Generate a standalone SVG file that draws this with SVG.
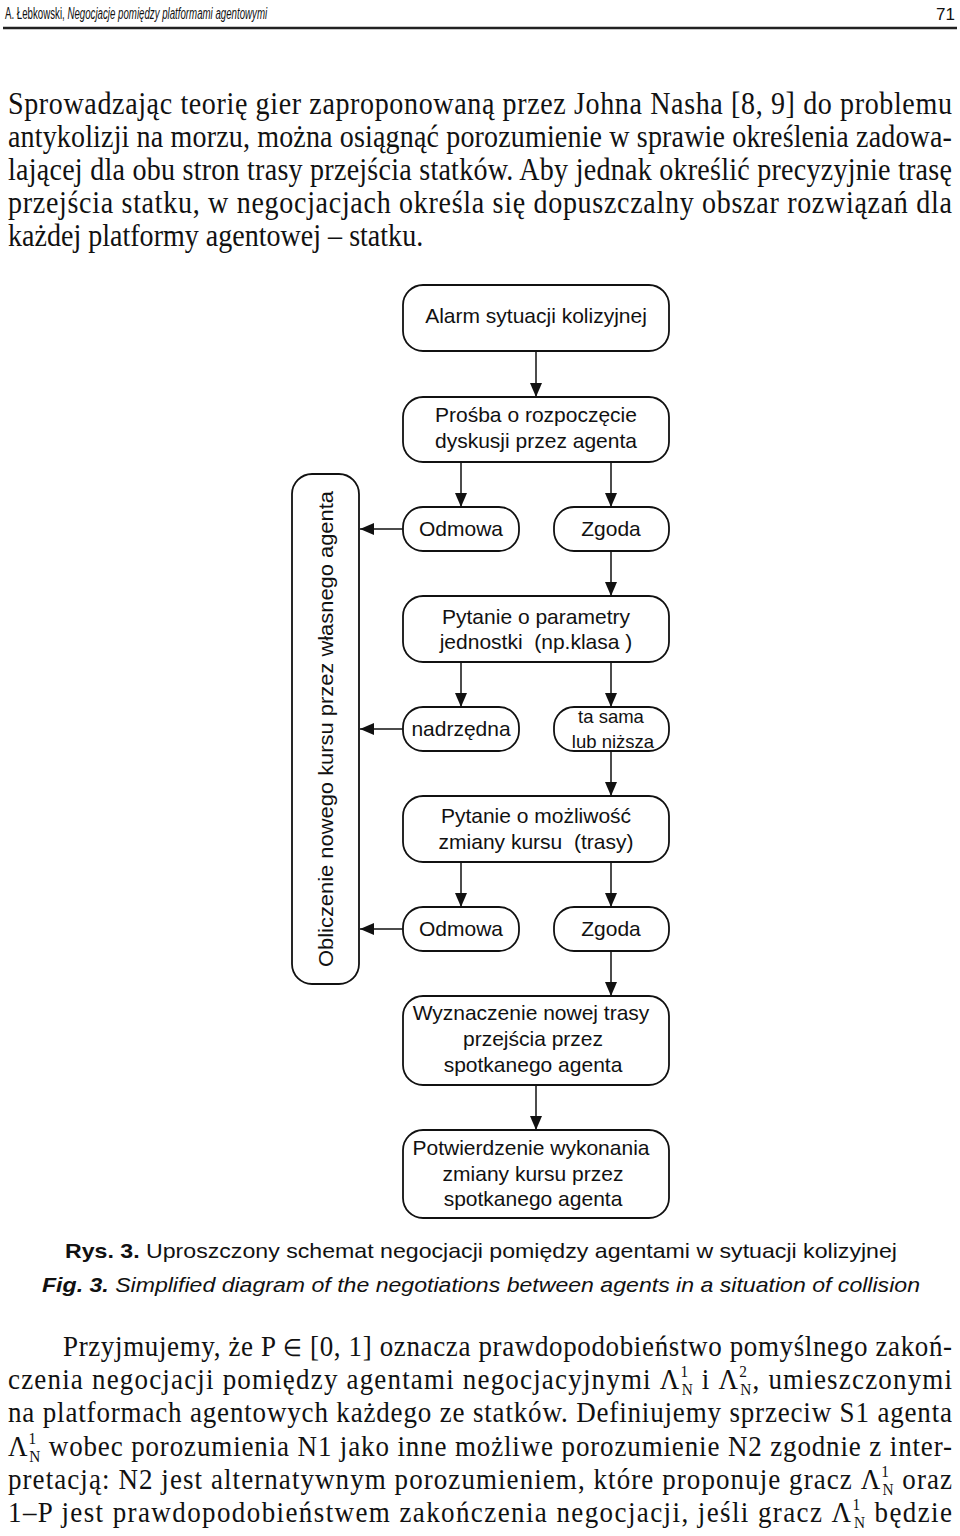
<svg xmlns="http://www.w3.org/2000/svg" width="960" height="1536" viewBox="0 0 960 1536">
<style>
.hdr{font-family:"Liberation Sans",Arial,sans-serif;font-size:17px;fill:#111}
.body{font-family:"Liberation Serif","Times New Roman",serif;font-size:30.5px;fill:#111}
.body2{font-family:"Liberation Serif","Times New Roman",serif;font-size:30px;fill:#111}
.nd rect{fill:#fff;stroke:#111;stroke-width:1.8}
.nd text{font-family:"Liberation Sans",Arial,sans-serif;font-size:21px;fill:#111;text-anchor:middle}
.sm{font-size:18.5px !important}
.cap{font-family:"Liberation Sans",Arial,sans-serif;font-size:21px;fill:#111}
.conn line{stroke:#111;stroke-width:1.5}
.sup{font-size:17px}
</style>
<defs>
<marker id="ah" viewBox="0 0 14 12" refX="14" refY="6" markerWidth="14" markerHeight="12" markerUnits="userSpaceOnUse" orient="auto">
<path d="M0,0 L14,6 L0,12 Z" fill="#111"/>
</marker>
</defs>
<rect width="960" height="1536" fill="#fff"/>

<!-- header -->
<g transform="translate(5,19) scale(0.57,1)">
<text class="hdr" x="0" y="0">A. Łebkowski, <tspan font-style="italic">Negocjacje pomiędzy platformami agentowymi</tspan></text>
</g>
<text class="hdr" x="955" y="20" text-anchor="end" font-size="22">71</text>
<line x1="3" y1="28" x2="957" y2="28" stroke="#222" stroke-width="2.5"/>

<!-- top paragraph -->
<g transform="scale(0.92,1)">
<text class="body" x="8.7" y="114" textLength="1026" lengthAdjust="spacing">Sprowadzając teorię gier zaproponowaną przez Johna Nasha [8, 9] do problemu</text>
<text class="body" x="8.7" y="147" textLength="1026" lengthAdjust="spacing">antykolizji na morzu, można osiągnąć porozumienie w sprawie określenia zadowa-</text>
<text class="body" x="8.7" y="180" textLength="1026" lengthAdjust="spacing">lającej dla obu stron trasy przejścia statków. Aby jednak określić precyzyjnie trasę</text>
<text class="body" x="8.7" y="213" textLength="1026" lengthAdjust="spacing">przejścia statku, w negocjacjach określa się dopuszczalny obszar rozwiązań dla</text>
<text class="body" x="8.7" y="246">każdej platformy agentowej – statku.</text>
</g>

<!-- connectors -->
<g class="conn" id="connectors">
<line x1="536" y1="351" x2="536" y2="397" marker-end="url(#ah)"/>
<line x1="461" y1="462" x2="461" y2="507" marker-end="url(#ah)"/>
<line x1="611" y1="462" x2="611" y2="507" marker-end="url(#ah)"/>
<line x1="611" y1="551" x2="611" y2="596" marker-end="url(#ah)"/>
<line x1="461" y1="662" x2="461" y2="707" marker-end="url(#ah)"/>
<line x1="611" y1="662" x2="611" y2="707" marker-end="url(#ah)"/>
<line x1="611" y1="751" x2="611" y2="796" marker-end="url(#ah)"/>
<line x1="461" y1="862" x2="461" y2="907" marker-end="url(#ah)"/>
<line x1="611" y1="862" x2="611" y2="907" marker-end="url(#ah)"/>
<line x1="611" y1="951" x2="611" y2="996" marker-end="url(#ah)"/>
<line x1="536" y1="1085" x2="536" y2="1130" marker-end="url(#ah)"/>
<line x1="403" y1="529" x2="360" y2="529" marker-end="url(#ah)"/>
<line x1="403" y1="729" x2="360" y2="729" marker-end="url(#ah)"/>
<line x1="403" y1="929" x2="360" y2="929" marker-end="url(#ah)"/>
</g>

<!-- nodes -->
<g class="nd" id="n-alarm"><rect x="403" y="285" width="266" height="66" rx="20"/><text x="536" y="323">Alarm sytuacji kolizyjnej</text></g>
<g class="nd" id="n-prosba"><rect x="403" y="397" width="266" height="65" rx="20"/><text x="536" y="422">Prośba o rozpoczęcie</text><text x="536" y="448">dyskusji przez agenta</text></g>
<g class="nd" id="n-odmowa1"><rect x="403" y="507" width="116" height="44" rx="20"/><text x="461" y="536">Odmowa</text></g>
<g class="nd" id="n-zgoda1"><rect x="554" y="507" width="115" height="44" rx="20"/><text x="611" y="536">Zgoda</text></g>
<g class="nd" id="n-pytanie1"><rect x="403" y="596" width="266" height="66" rx="20"/><text x="536" y="624">Pytanie o parametry</text><text x="536" y="649" style="white-space:pre">jednostki  (np.klasa )</text></g>
<g class="nd" id="n-nadrzedna"><rect x="403" y="707" width="116" height="44" rx="20"/><text x="461" y="736" font-size="19">nadrzędna</text></g>
<g class="nd" id="n-tasama"><rect x="554" y="707" width="115" height="44" rx="20"/><text x="611" y="723" class="sm">ta sama</text><text x="613" y="748" class="sm">lub niższa</text></g>
<g class="nd" id="n-pytanie2"><rect x="403" y="796" width="266" height="66" rx="20"/><text x="536" y="823">Pytanie o możliwość</text><text x="536" y="849" style="white-space:pre">zmiany kursu  (trasy)</text></g>
<g class="nd" id="n-odmowa2"><rect x="403" y="907" width="116" height="44" rx="20"/><text x="461" y="936">Odmowa</text></g>
<g class="nd" id="n-zgoda2"><rect x="554" y="907" width="115" height="44" rx="20"/><text x="611" y="936">Zgoda</text></g>
<g class="nd" id="n-wyznaczenie"><rect x="403" y="996" width="266" height="89" rx="20"/><text x="531" y="1020">Wyznaczenie nowej trasy</text><text x="533" y="1046">przejścia przez</text><text x="533" y="1072">spotkanego agenta</text></g>
<g class="nd" id="n-potwierdzenie"><rect x="403" y="1130" width="266" height="88" rx="20"/><text x="531" y="1155">Potwierdzenie wykonania</text><text x="533" y="1181">zmiany kursu przez</text><text x="533" y="1206">spotkanego agenta</text></g>
<g class="nd" id="n-obliczenie"><rect x="292" y="474" width="67" height="510" rx="20"/><text transform="translate(333,729) rotate(-90)" x="0" y="0" textLength="476" lengthAdjust="spacingAndGlyphs">Obliczenie nowego kursu przez własnego agenta</text></g>

<!-- caption -->
<text class="cap" x="65" y="1258" textLength="832" lengthAdjust="spacingAndGlyphs"><tspan font-weight="bold">Rys. 3.</tspan> Uproszczony schemat negocjacji pomiędzy agentami w sytuacji kolizyjnej</text>
<text class="cap" x="42" y="1292" font-style="italic" textLength="878" lengthAdjust="spacingAndGlyphs"><tspan font-weight="bold">Fig. 3.</tspan> Simplified diagram of the negotiations between agents in a situation of collision</text>

<!-- bottom paragraph -->
<g transform="scale(0.9,1)">
<text class="body2" x="70" y="1356" textLength="987.8" lengthAdjust="spacing">Przyjmujemy, że P <tspan font-size="24">∈</tspan> [0, 1] oznacza prawdopodobieństwo pomyślnego zakoń-</text>
<text class="body2" x="8.9" y="1389" textLength="1048.9" lengthAdjust="spacing">czenia negocjacji pomiędzy agentami negocjacyjnymi Λ<tspan class="sup" dy="-12">1</tspan><tspan class="sup" dx="-8.5" dy="18">N</tspan><tspan dy="-6"> i Λ</tspan><tspan class="sup" dy="-12">2</tspan><tspan class="sup" dx="-8.5" dy="18">N</tspan><tspan dy="-6">, umieszczonymi</tspan></text>
<text class="body2" x="8.9" y="1422" textLength="1048.9" lengthAdjust="spacing">na platformach agentowych każdego ze statków. Definiujemy sprzeciw S1 agenta</text>
<text class="body2" x="8.9" y="1456" textLength="1048.9" lengthAdjust="spacing">Λ<tspan class="sup" dy="-12">1</tspan><tspan class="sup" dx="-8.5" dy="18">N</tspan><tspan dy="-6">  wobec porozumienia N1 jako inne możliwe porozumienie N2 zgodnie z inter-</tspan></text>
<text class="body2" x="8.9" y="1489" textLength="1048.9" lengthAdjust="spacing">pretacją: N2 jest alternatywnym porozumieniem, które proponuje gracz  Λ<tspan class="sup" dy="-12">1</tspan><tspan class="sup" dx="-8.5" dy="18">N</tspan><tspan dy="-6"> oraz</tspan></text>
<text class="body2" x="8.9" y="1522" textLength="1048.9" lengthAdjust="spacing">1–P jest prawdopodobieństwem zakończenia negocjacji, jeśli gracz Λ<tspan class="sup" dy="-12">1</tspan><tspan class="sup" dx="-8.5" dy="18">N</tspan><tspan dy="-6"> będzie</tspan></text>
</g>
</svg>
